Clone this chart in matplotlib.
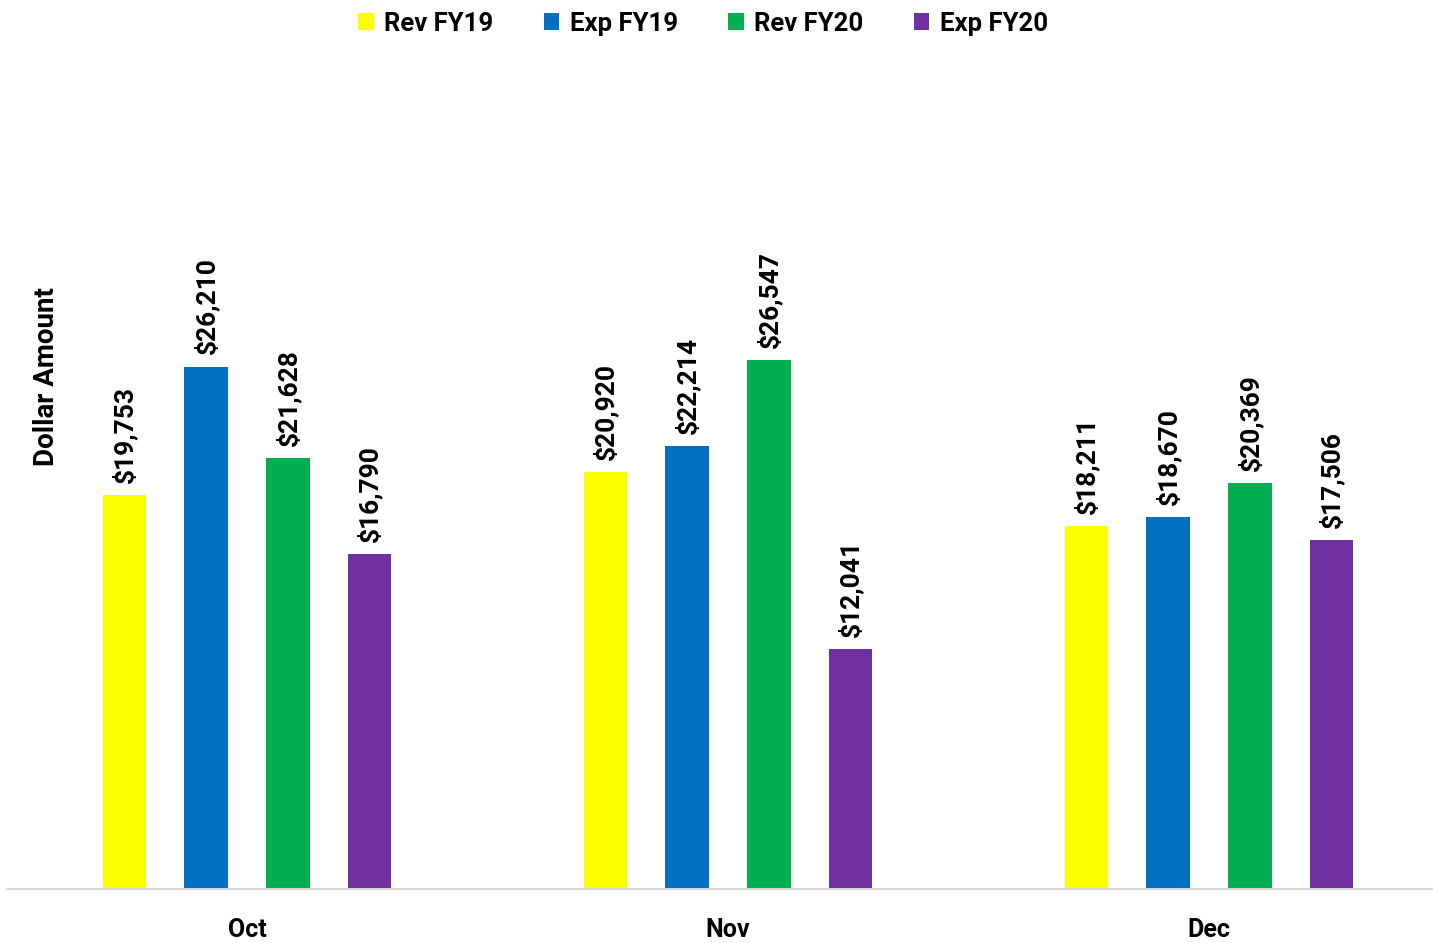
import matplotlib
matplotlib.use("Agg")
import matplotlib.pyplot as plt
import numpy as np

months = ["Oct", "Nov", "Dec"]
series = ["Rev FY19", "Exp FY19", "Rev FY20", "Exp FY20"]
rev_fy19 = [19753, 20920, 18211]
exp_fy19 = [26210, 22214, 18670]
rev_fy20 = [21628, 26547, 20369]
exp_fy20 = [16790, 12041, 17506]
colors = ["#FFFF00", "#0070C0", "#00B050", "#7030A0"]

plt.rcParams['font.family'] = ['Roboto', 'DejaVu Sans']
plt.rcParams['font.weight'] = 'bold'

W, H = 1433, 943
fig = plt.figure(figsize=(W/100, H/100), dpi=100)
ppu = 481.0
left_px = 247 - 0.5*ppu
ax = fig.add_axes([left_px/W, (H-889)/H, 3*ppu/W, 797/H])
ax.set_xlim(-0.5, 2.5)
ax.set_ylim(0, 40000)

x = np.arange(len(months))
width = 0.09
offsets = [-0.255, -0.085, 0.085, 0.255]
data = [rev_fy19, exp_fy19, rev_fy20, exp_fy20]
for vals, off, c, name in zip(data, offsets, colors, series):
    bars = ax.bar(x + off, vals, width, color=c, label=name, zorder=2)
    for b, v in zip(bars, vals):
        ax.annotate(f"${v:,}", (b.get_x() + b.get_width()/2, v),
                    xytext=(0, 9), textcoords="offset points",
                    rotation=90, ha="center", va="bottom",
                    fontsize=19, fontweight="bold", color="black")

for s in ["top", "right", "left"]:
    ax.spines[s].set_visible(False)
ax.spines["bottom"].set_color("#D9D9D9")
ax.spines["bottom"].set_linewidth(1.5)
ax.set_yticks([])
ax.set_xticks(x)
ax.set_xticklabels(months, fontsize=18, fontweight="bold")
ax.tick_params(axis="x", length=0, pad=21)

fig.text(47/W, 1 - 377/H, "Dollar Amount", rotation=90, ha="center", va="center",
         fontsize=20, fontweight="bold")

leg = fig.legend(loc="upper center", bbox_to_anchor=(703/W, 1.0), ncol=4,
                 frameon=False, fontsize=18.5, handlelength=0.6, handleheight=0.6,
                 handletextpad=0.4, columnspacing=1.97, borderaxespad=0.05)
for t in leg.get_texts():
    t.set_fontweight("bold")

fig.savefig("out.png", dpi=100)
